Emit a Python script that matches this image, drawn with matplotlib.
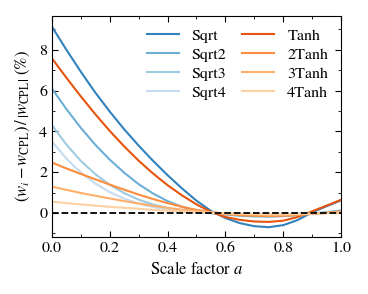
import numpy as np
import matplotlib
matplotlib.use("Agg")
import matplotlib.pyplot as plt
from matplotlib.ticker import MultipleLocator, FormatStrFormatter

a = [0.0, 0.05, 0.1, 0.15, 0.2, 0.25, 0.3, 0.35, 0.4, 0.45, 0.5,
     0.55, 0.6, 0.65, 0.7, 0.75, 0.8, 0.85, 0.9, 0.95, 1.0]

sqrt1 = [9.13, 8.0, 6.92, 5.9, 4.97, 4.1, 3.3, 2.55, 1.85, 1.2, 0.6,
         0.1, -0.25, -0.5, -0.65, -0.7, -0.6, -0.35, 0.03, 0.33, 0.62]
sqrt2 = [6.1, 5.09, 4.17, 3.34, 2.61, 1.97, 1.41, 0.95, 0.58, 0.3, 0.1,
         0.0, -0.08, -0.14, -0.17, -0.18, -0.16, -0.11, -0.04, 0.04, 0.12]
sqrt3 = [4.3, 3.35, 2.55, 1.9, 1.38, 0.97, 0.65, 0.41, 0.24, 0.12, 0.04,
         -0.01, -0.05, -0.08, -0.1, -0.1, -0.09, -0.06, -0.02, 0.02, 0.06]
sqrt4 = [3.5, 2.66, 1.98, 1.44, 1.02, 0.7, 0.46, 0.29, 0.17, 0.08, 0.02,
         -0.02, -0.04, -0.06, -0.07, -0.07, -0.06, -0.04, -0.02, 0.0, 0.03]
tanh1 = [7.58, 6.63, 5.71, 4.84, 4.02, 3.26, 2.56, 1.93, 1.36, 0.86, 0.42,
         0.05, -0.2, -0.34, -0.42, -0.44, -0.38, -0.2, 0.08, 0.36, 0.64]
tanh2 = [2.47, 2.18, 1.91, 1.65, 1.39, 1.14, 0.9, 0.68, 0.48, 0.3, 0.15,
         0.04, -0.05, -0.11, -0.14, -0.15, -0.14, -0.1, -0.05, 0.01, 0.07]
tanh3 = [1.29, 1.13, 0.98, 0.84, 0.71, 0.58, 0.46, 0.35, 0.25, 0.16, 0.09,
         0.03, -0.02, -0.06, -0.08, -0.09, -0.09, -0.07, -0.04, -0.01, 0.03]
tanh4 = [0.55, 0.48, 0.42, 0.36, 0.3, 0.25, 0.2, 0.15, 0.11, 0.07, 0.04,
         0.01, -0.02, -0.04, -0.05, -0.06, -0.06, -0.05, -0.03, -0.01, 0.01]

series = [("Sqrt", sqrt1, "#3182bd"), ("Sqrt2", sqrt2, "#6baed6"),
          ("Sqrt3", sqrt3, "#9ecae1"), ("Sqrt4", sqrt4, "#c6dbef"),
          ("Tanh", tanh1, "#e6550d"), ("2Tanh", tanh2, "#fd8d3c"),
          ("3Tanh", tanh3, "#fdae6b"), ("4Tanh", tanh4, "#fdd0a2")]

plt.rcParams['font.family'] = 'STIXGeneral'
plt.rcParams['mathtext.fontset'] = 'stix'
plt.rcParams['font.size'] = 11.5

fig = plt.figure(figsize=(3.68, 2.94), dpi=100)
ax = fig.add_axes([0.1413, 0.1939, 0.7853, 0.7517])

for name, vals, col in series:
    ax.plot(a, vals, color=col, lw=1.5, label=name)
ax.axhline(0, color='black', ls='--', lw=1.3, zorder=5)

ax.set_xlim(0, 1)
ax.set_ylim(-1.18, 9.66)
ax.xaxis.set_major_locator(MultipleLocator(0.2))
ax.xaxis.set_minor_locator(MultipleLocator(0.1))
ax.yaxis.set_major_locator(MultipleLocator(2))
ax.yaxis.set_minor_locator(MultipleLocator(1))
ax.xaxis.set_major_formatter(FormatStrFormatter('%.1f'))
ax.tick_params(which='both', direction='in', top=True, right=True, labelsize=11.5)
ax.tick_params(which='major', length=4, width=0.8)
ax.tick_params(which='minor', length=2, width=0.6)

ax.set_xlabel(r"Scale factor $a$", fontsize=12)
ax.set_ylabel(r"$\left(w_i - w_{\rm CPL}\right)\,/\,\left|w_{\rm CPL}\right|\ (\%)$",
              fontsize=12, labelpad=5)

ax.legend(ncol=2, frameon=False, loc='upper right', fontsize=11.5,
          handlelength=2.0, handletextpad=0.8, columnspacing=1.0,
          labelspacing=0.3, borderaxespad=0.4)

fig.savefig("out.png", dpi=100)
